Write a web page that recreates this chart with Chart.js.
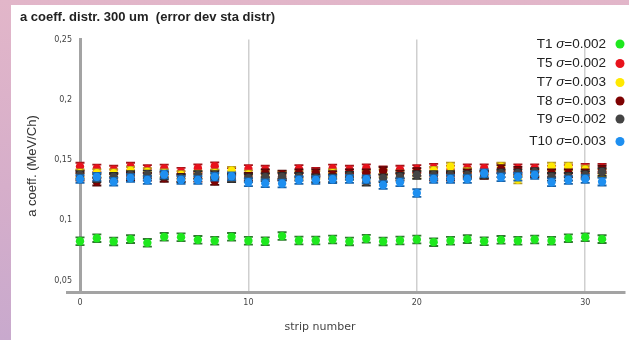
<!DOCTYPE html>
<html>
<head>
<meta charset="utf-8">
<script src="https://cdn.jsdelivr.net/npm/chart.js@4/dist/chart.umd.min.js"></script>
<style>
  html, body { margin: 0; padding: 0; }
  body {
    width: 629px; height: 340px; position: relative; overflow: hidden;
    background: linear-gradient(180deg, #e2b6c9 0%, #d6aeca 55%, #c8a9cd 100%);
  }
  #panel { position: absolute; left: 11px; top: 5px; right: 0; bottom: 0; background: #ffffff; }
  #title {
    position: absolute; left: 20px; top: 9px; margin: 0;
    font: bold 13px "Liberation Sans", Arial, sans-serif; line-height: 15px;
    color: #222; white-space: pre;
  }
  #chart { position: absolute; left: 0; top: 0; }
</style>
</head>
<body>
<div id="panel"></div>
<canvas id="chart" width="629" height="340"></canvas>
<div id="title">a coeff. distr. 300 um  (error dev sta distr)</div>
<script>
// strip numbers along the x axis
const strips = [0,1,2,3,4,5,6,7,8,9,10,11,12,13,14,15,16,17,18,19,20,21,22,23,24,25,26,27,28,29,30,31];

// fitted "a" coefficient per strip (MeV/Ch), one list per test
const t1  = [0.0826,0.0851,0.0824,0.0843,0.0812,0.0862,0.0859,0.0837,0.0830,0.0862,0.0830,0.0826,0.0868,0.0832,0.0832,0.0840,0.0824,0.0846,0.0824,0.0832,0.0840,0.0818,0.0830,0.0843,0.0826,0.0837,0.0830,0.0840,0.0830,0.0851,0.0859,0.0843];
const t5  = [0.1445,0.1430,0.1420,0.1445,0.1425,0.1430,0.1403,0.1431,0.1448,0.1400,0.1425,0.1420,0.1365,0.1425,0.1403,0.1430,0.1420,0.1431,0.1415,0.1420,0.1425,0.1435,0.1420,0.1431,0.1431,0.1440,0.1431,0.1431,0.1420,0.1425,0.1435,0.1435];
const t7  = [0.1390,0.1390,0.1390,0.1410,0.1400,0.1390,0.1375,0.1380,0.1390,0.1410,0.1380,0.1375,0.1375,0.1375,0.1375,0.1390,0.1370,0.1380,0.1390,0.1380,0.1380,0.1410,0.1445,0.1400,0.1380,0.1445,0.1337,0.1390,0.1445,0.1445,0.1420,0.1390];
const t8  = [0.1360,0.1320,0.1350,0.1360,0.1360,0.1350,0.1353,0.1353,0.1326,0.1360,0.1360,0.1390,0.1380,0.1390,0.1390,0.1375,0.1390,0.1390,0.1408,0.1380,0.1400,0.1360,0.1360,0.1390,0.1375,0.1425,0.1410,0.1390,0.1390,0.1390,0.1390,0.1420];
const t9  = [0.1375,0.1348,0.1360,0.1375,0.1380,0.1370,0.1348,0.1375,0.1375,0.1348,0.1348,0.1357,0.1360,0.1360,0.1348,0.1348,0.1370,0.1320,0.1348,0.1360,0.1375,0.1375,0.1375,0.1375,0.1380,0.1390,0.1390,0.1400,0.1360,0.1360,0.1375,0.1400];
const t10 = [0.1342,0.1360,0.1320,0.1350,0.1334,0.1380,0.1334,0.1334,0.1360,0.1365,0.1315,0.1306,0.1305,0.1334,0.1334,0.1340,0.1342,0.1340,0.1292,0.1315,0.1225,0.1342,0.1342,0.1342,0.1390,0.1357,0.1360,0.1375,0.1315,0.1334,0.1342,0.1320];

// error bar half-height for each test
const errors = [0.0032, 0.0032, 0.0032, 0.0032, 0.0032, 0.0032];

// legend names and spread of each distribution
const names  = ['T1', 'T5', 'T7', 'T8', 'T9', 'T10'];
const sigmas = ['0.002', '0.002', '0.003', '0.003', '0.002', '0.003'];

// axis tick values
const xTicks = [0, 10, 20, 30];
const yTicks = [0.05, 0.1, 0.15, 0.2, 0.25];

const series = [t1, t5, t7, t8, t9, t10];
const fills  = ['#1ee81e', '#e8121c', '#ffe900', '#7e0202', '#444444', '#1e8ff0'];
const caps   = ['#2f7a2f', '#a3141a', '#b89a22', '#4e0a0a', '#2a2a2a', '#1a63a8'];

const datasets = series.map((vals, k) => ({
  label: names[k] + ' \u03c3=' + sigmas[k],
  data: strips.map((s, i) => ({ x: s, y: vals[i] })),
  backgroundColor: fills[k],
  borderWidth: 0,
  pointRadius: 4.2,
  pointHoverRadius: 4.2,
  err: errors[k],
  capColor: caps[k],
  order: series.length - k,
  clip: false
}));

// vertical error bars with short caps, drawn just before each dataset's points
const errorBars = {
  id: 'errorBars',
  beforeDatasetDraw(chart, args) {
    const ds = chart.data.datasets[args.index];
    const ys = chart.scales.y;
    const ctx = chart.ctx;
    ctx.save();
    ctx.strokeStyle = ds.capColor;
    ctx.lineWidth = 1.8;
    args.meta.data.forEach((pt, i) => {
      const v = ds.data[i].y;
      const top = ys.getPixelForValue(v + ds.err);
      const bot = ys.getPixelForValue(v - ds.err);
      ctx.beginPath();
      ctx.moveTo(pt.x, top); ctx.lineTo(pt.x, bot);
      ctx.moveTo(pt.x - 4.5, top); ctx.lineTo(pt.x + 4.5, top);
      ctx.moveTo(pt.x - 4.5, bot); ctx.lineTo(pt.x + 4.5, bot);
      ctx.stroke();
    });
    ctx.restore();
  }
};

// legend in the upper right corner, x-axis title, and the axis stub left of the origin
const decorations = {
  id: 'decorations',
  afterDraw(chart) {
    const ctx = chart.ctx;
    const area = chart.chartArea;
    ctx.save();

    ctx.strokeStyle = '#a3a3a3';
    ctx.lineWidth = 3;
    ctx.beginPath();
    ctx.moveTo(66, area.bottom);
    ctx.lineTo(area.left, area.bottom);
    ctx.stroke();

    ctx.fillStyle = '#444';
    ctx.font = '11px "DejaVu Sans", sans-serif';
    ctx.textAlign = 'center';
    ctx.textBaseline = 'middle';
    ctx.fillText('strip number', 320, 327);

    const rowsY = [44, 63.5, 82.5, 101, 119, 141.5];
    const right = 606;
    const regular = '13.5px "Liberation Sans", Arial, sans-serif';
    const italic = 'italic 13.5px "Liberation Sans", Arial, sans-serif';
    ctx.textAlign = 'left';
    ctx.fillStyle = '#222';
    chart.data.datasets.forEach((ds, k) => {
      const y = rowsY[k];
      const head = names[k] + ' ';
      const sym = '\u03c3';
      const tail = '=' + sigmas[k];
      ctx.font = regular;
      const wHead = ctx.measureText(head).width;
      const wTail = ctx.measureText(tail).width;
      ctx.font = italic;
      const wSym = ctx.measureText(sym).width;
      let x = right - wHead - wSym - wTail;
      ctx.fillStyle = '#222';
      ctx.font = regular; ctx.fillText(head, x, y); x += wHead;
      ctx.font = italic;  ctx.fillText(sym, x, y);  x += wSym;
      ctx.font = regular; ctx.fillText(tail, x, y);

      ctx.fillStyle = fills[k];
      ctx.beginPath();
      ctx.arc(620, y, 4.5, 0, Math.PI * 2);
      ctx.fill();
    });
    ctx.restore();
  }
};

const tickFont = { family: '"DejaVu Sans", sans-serif', size: 8 };
const commaDecimal = v => String(v).replace('.', ',');

new Chart(document.getElementById('chart'), {
  type: 'scatter',
  data: { datasets },
  plugins: [errorBars, decorations],
  options: {
    responsive: false,
    devicePixelRatio: 1,
    animation: false,
    layout: { padding: { left: 0, right: 0, top: 39.5, bottom: 0 } },
    plugins: {
      legend: { display: false },
      title: { display: false },
      tooltip: { enabled: false }
    },
    scales: {
      x: {
        type: 'linear',
        min: 0,
        max: 32.35,
        afterBuildTicks: s => { s.ticks = xTicks.map(v => ({ value: v })); },
        afterFit: s => { s.height = 47.5; },
        grid: {
          drawTicks: false,
          color: ctx => (ctx.tick && ctx.tick.value === 0 ? 'rgba(0,0,0,0)' : '#cfcfcf'),
          lineWidth: 1.5
        },
        border: { display: true, color: '#a3a3a3', width: 3 },
        ticks: { font: tickFont, color: '#444', padding: 6, maxRotation: 0 }
      },
      y: {
        type: 'linear',
        min: 0.04,
        max: 0.25,
        afterBuildTicks: s => { s.ticks = yTicks.map(v => ({ value: v })); },
        afterFit: s => { s.width = 80; },
        grid: { display: false, drawTicks: false },
        border: { display: true, color: '#a3a3a3', width: 3 },
        ticks: { font: tickFont, color: '#444', padding: 8, callback: v => commaDecimal(v) },
        title: {
          display: true,
          text: 'a coeff. (MeV/Ch)',
          color: '#333',
          font: { family: '"Liberation Sans", Arial, sans-serif', size: 13 },
          padding: { top: 25, bottom: 0 }
        }
      }
    }
  }
});
</script>
</body>
</html>
